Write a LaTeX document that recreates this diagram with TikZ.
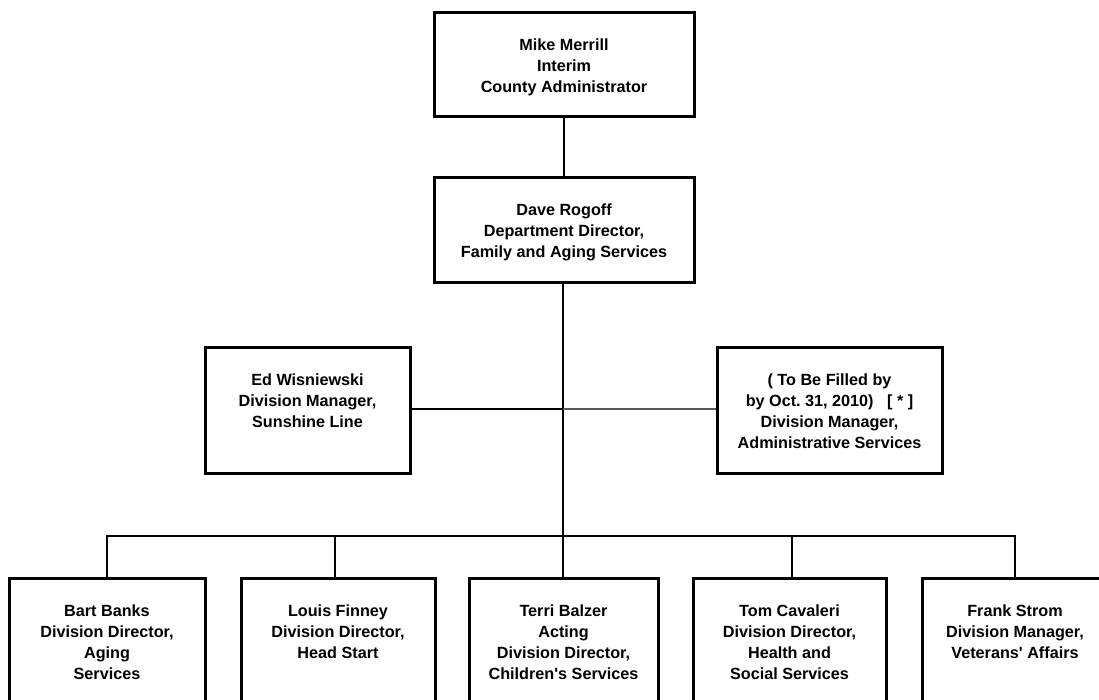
\documentclass[tikz,border=0pt]{standalone}
\usepackage{fontspec}
\setmainfont{Liberation Sans}
\newcommand{\orgtext}[3]{\parbox[c][#2][t]{#1}{\centering\frenchspacing\fontsize{16.2}{21}\selectfont\bfseries\rule{0pt}{38pt}#3}}
\begin{document}
\begin{tikzpicture}[x=1pt,y=-1pt,
  box/.style={draw,line width=3pt,inner sep=0pt},
  conn/.style={line width=2pt},
  softconn/.style={line width=1.5pt,black!65}]
\useasboundingbox (0,0) rectangle (1099,700);
\clip (0,0) rectangle (1099,700);
\node[box] (top) at (564,65) {\orgtext{260pt}{104pt}{Mike Merrill\\Interim\\County Administrator}};
\node[box] (dave) at (564,230.5) {\orgtext{260pt}{105pt}{Dave Rogoff\\Department Director,\\Family and Aging Services}};
\node[box] (ed) at (307.5,410) {\orgtext{205pt}{126pt}{Ed Wisniewski\\Division Manager,\\Sunshine Line}};
\node[box] (tbf) at (829.5,410) {\orgtext{225pt}{126pt}{( To Be Filled by\\by Oct. 31, 2010)\ \ \ [ * ]\\Division Manager,\\Administrative Services}};
\node[box] (bart) at (107,653) {\orgtext{196pt}{150pt}{Bart Banks\\Division Director,\\Aging\\Services}};
\node[box] (louis) at (338,653) {\orgtext{194pt}{150pt}{Louis Finney\\Division Director,\\Head Start}};
\node[box] (terri) at (563.5,653) {\orgtext{189pt}{150pt}{Terri Balzer\\Acting\\Division Director,\\Children\textquotesingle s Services}};
\node[box] (tom) at (789.5,653) {\orgtext{193pt}{150pt}{Tom Cavaleri\\Division Director,\\Health and\\Social Services}};
\node[box] (frank) at (1015,653) {\orgtext{186pt}{150pt}{Frank Strom\\Division Manager,\\Veterans\textquotesingle\ Affairs}};
\coordinate (hub) at (563,409);
\coordinate (bus) at (563,536);
\draw[conn] (top.south) -- (dave.north);
\draw[conn] (dave.south -| bus) -- (bus);
\draw[conn] (hub -| ed.east) -- (hub);
\draw[softconn] (hub) -- (hub -| tbf.west);
\draw[conn] (bart.north) -- (bart.north |- bus) -- (frank.north |- bus) -- (frank.north);
\draw[conn] ([xshift=-3pt]louis.north) -- ([xshift=-3pt]louis.north |- bus);
\draw[conn] (terri.north -| bus) -- (bus);
\draw[conn] ([xshift=2.5pt]tom.north) -- ([xshift=2.5pt]tom.north |- bus);
\end{tikzpicture}
\end{document}
